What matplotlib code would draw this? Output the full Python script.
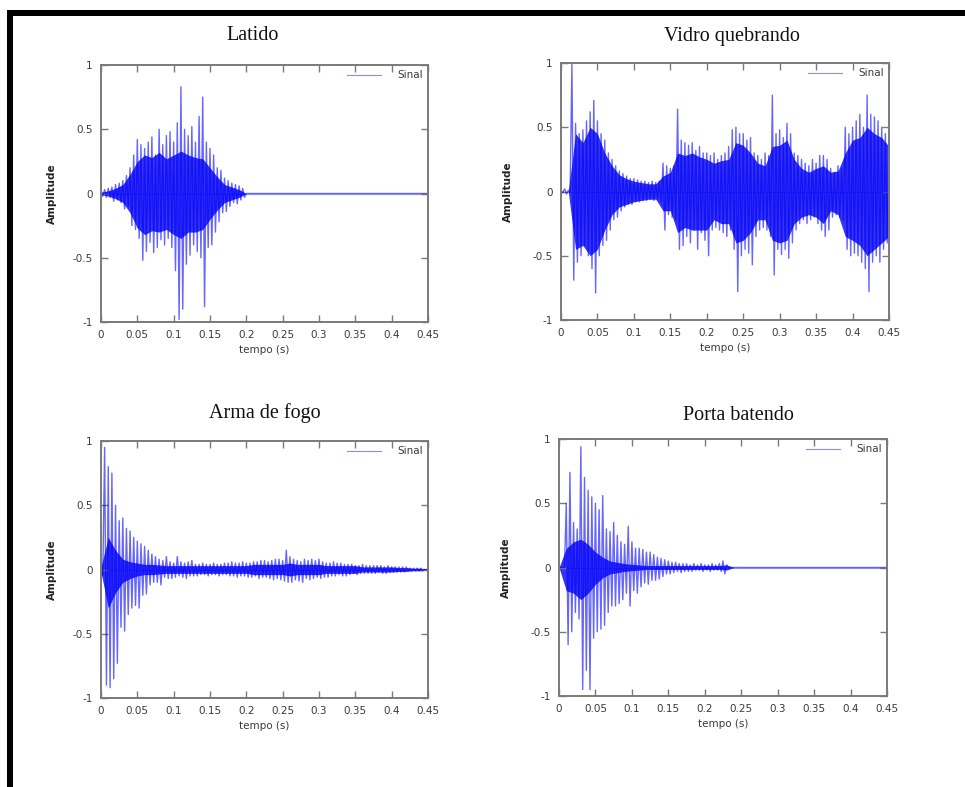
import numpy as np
import matplotlib
matplotlib.use("Agg")
import matplotlib.pyplot as plt
from matplotlib.patches import Rectangle

# ---------------- data ----------------
# peak samples (alternating swings), dt = 2.5 ms
dt = 0.0025

latido = [
    0.02, -0.02, 0.03, -0.03, 0.04, -0.03,
    0.05, -0.06, 0.07, -0.05, 0.08, -0.07,
    0.10, -0.12, 0.14, -0.10,
    0.20, -0.25, 0.30, -0.28,
    0.42, -0.35, 0.38, -0.52,
    0.35, -0.45, 0.40, -0.38,
    0.44, -0.46, 0.30, -0.42,
    0.50, -0.36, 0.38, -0.40,
    0.45, -0.35, 0.48, -0.42,
    0.40, -0.60, 0.55, -0.98,
    0.83, -0.90, 0.50, -0.55,
    0.45, -0.48, 0.52, -0.40,
    0.40, -0.45, 0.60, -0.50,
    0.75, -0.88, 0.40, -0.42,
    0.35, -0.40, 0.30, -0.30,
    0.20, -0.22, 0.18, -0.15,
    0.12, -0.14, 0.10, -0.10,
    0.08, -0.07, 0.07, -0.08,
    0.06, -0.05, 0.04, -0.03,
] + [0.0] * 101

vidro = [
    0.01, -0.01, 0.02, -0.02, 0.01, -0.01,
    0.99, -0.69,
    0.53, -0.55, 0.45, -0.50,
    0.48, -0.42, 0.55, -0.50,
    0.62, -0.60, 0.71, -0.79,
    0.55, -0.50, 0.45, -0.42,
    0.40, -0.38, 0.30, -0.30,
    0.25, -0.22, 0.20, -0.20,
    0.16, -0.15, 0.14, -0.12,
    0.12, -0.10, 0.10, -0.10,
    0.10, -0.08, 0.09, -0.08,
    0.08, -0.07, 0.08, -0.07,
    0.07, -0.06, 0.08, -0.07,
    0.07, -0.06, 0.08, -0.08,
    0.22, -0.30, 0.20, -0.18,
    0.18, -0.20, 0.20, -0.22,
    0.64, -0.45, 0.40, -0.42,
    0.38, -0.35, 0.36, -0.40,
    0.38, -0.30, 0.32, -0.45,
    0.35, -0.32, 0.30, -0.38,
    0.30, -0.50, 0.28, -0.30,
    0.30, -0.28, 0.25, -0.30,
    0.28, -0.32, 0.30, -0.35,
    0.35, -0.30, 0.48, -0.45,
    0.50, -0.78, 0.45, -0.50,
    0.45, -0.45, 0.40, -0.48,
    0.42, -0.57, 0.30, -0.35,
    0.28, -0.30, 0.25, -0.28,
    0.30, -0.30, 0.28, -0.35,
    0.75, -0.65, 0.45, -0.45,
    0.48, -0.49, 0.42, -0.45,
    0.53, -0.52, 0.45, -0.40,
    0.30, -0.30, 0.28, -0.25,
    0.25, -0.22, 0.22, -0.25,
    0.20, -0.22, 0.25, -0.20,
    0.22, -0.25, 0.28, -0.30,
    0.28, -0.35, 0.25, -0.30,
    0.18, -0.20, 0.15, -0.18,
    0.20, -0.20, 0.18, -0.22,
    0.50, -0.45, 0.45, -0.50,
    0.50, -0.48, 0.55, -0.50,
    0.60, -0.55, 0.50, -0.60,
    0.75, -0.78, 0.60, -0.55,
    0.58, -0.50, 0.55, -0.55,
    0.50, -0.45, 0.45, -0.40, 0.40,
]

arma = [
    0.03, -0.05,
    0.95, -0.90,
    0.80, -0.92,
    0.75, -0.85,
    0.50, -0.73,
    0.38, -0.45, 0.40, -0.48,
    0.32, -0.35, 0.30, -0.30,
    0.25, -0.28, 0.22, -0.30,
    0.20, -0.20, 0.18, -0.19,
    0.15, -0.12, 0.12, -0.10,
    0.10, -0.10, 0.08, -0.12,
    0.07, -0.06, 0.10, -0.07,
    0.06, -0.07, 0.05, -0.06,
    0.10, -0.05, 0.06, -0.06,
    0.05, -0.07, 0.06, -0.05,
    0.07, -0.05, 0.04, -0.05,
    0.04, -0.04, 0.05, -0.04,
    0.04, -0.05, 0.04, -0.04,
    0.05, -0.04, 0.04, -0.05,
    0.04, -0.04, 0.05, -0.04,
    0.05, -0.05, 0.06, -0.05,
    0.05, -0.06, 0.05, -0.05,
    0.06, -0.05, 0.05, -0.06,
    0.05, -0.06, 0.06, -0.05,
    0.06, -0.07, 0.07, -0.06,
    0.07, -0.06, 0.06, -0.07,
    0.07, -0.08, 0.08, -0.07,
    0.08, -0.08, 0.07, -0.09,
    0.15, -0.10, 0.10, -0.10,
    0.08, -0.08, 0.07, -0.09,
    0.06, -0.10, 0.08, -0.07,
    0.07, -0.08, 0.08, -0.07,
    0.07, -0.06, 0.08, -0.07,
    0.06, -0.06, 0.05, -0.06,
    0.05, -0.05, 0.06, -0.05,
    0.05, -0.04, 0.05, -0.05,
    0.04, -0.05, 0.04, -0.04,
    0.04, -0.03, 0.03, -0.04,
    0.03, -0.03, 0.04, -0.03,
    0.03, -0.03, 0.03, -0.03,
    0.03, -0.03, 0.03, -0.02,
    0.03, -0.03, 0.02, -0.03,
    0.03, -0.02, 0.02, -0.02,
    0.02, -0.02, 0.02, -0.02,
    0.02, -0.02, 0.02, -0.01,
    0.01, -0.01, 0.01, -0.01,
    0.01, -0.01, 0.01, -0.01, 0.0, 0.0, 0.0,
]

porta = [
    0.0, 0.0, 0.0, 0.0,
    0.50, -0.60,
    0.74, -0.50,
    0.35, -0.35, 0.30, -0.40,
    0.94, -0.95,
    0.70, -0.80,
    0.60, -0.95,
    0.55, -0.55, 0.50, -0.50,
    0.45, -0.48, 0.56, -0.45,
    0.30, -0.35, 0.28, -0.30,
    0.35, -0.30, 0.25, -0.28,
    0.20, -0.25, 0.18, -0.20,
    0.32, -0.30, 0.20, -0.18,
    0.15, -0.20, 0.15, -0.15,
    0.14, -0.12, 0.12, -0.13,
    0.12, -0.10, 0.10, -0.10,
    0.08, -0.09, 0.07, -0.07,
    0.06, -0.05, 0.05, -0.05,
    0.04, -0.04, 0.04, -0.03,
    0.03, -0.04, 0.03, -0.03,
    0.03, -0.03, 0.02, -0.03,
    0.03, -0.02, 0.02, -0.02,
    0.03, -0.03, 0.02, -0.02,
    0.02, -0.03, 0.03, -0.02,
    0.02, -0.02, 0.03, -0.03,
    0.05, -0.05, 0.02, 0.0,
] + [0.0] * 87

# dense (solid) core of each waveform, sampled every 10 ms (t = 0 .. 0.45)
core_dt = 0.01
latido_core_hi = [0.01, 0.02, 0.04, 0.07, 0.15, 0.25, 0.30, 0.28, 0.32, 0.27,
                  0.30, 0.33, 0.30, 0.28, 0.27, 0.20, 0.13, 0.07, 0.05, 0.03,
                  0.0] + [0.0] * 25
latido_core_lo = [-0.01, -0.02, -0.04, -0.07, -0.15, -0.27, -0.32, -0.29, -0.30, -0.28,
                  -0.32, -0.35, -0.30, -0.30, -0.28, -0.20, -0.13, -0.07, -0.05, -0.03,
                  0.0] + [0.0] * 25
vidro_core_hi = [0.0, 0.0, 0.45, 0.38, 0.50, 0.45, 0.30, 0.20, 0.13, 0.10,
                 0.08, 0.07, 0.06, 0.06, 0.12, 0.15, 0.30, 0.28, 0.30, 0.27,
                 0.25, 0.22, 0.24, 0.25, 0.38, 0.36, 0.30, 0.22, 0.20, 0.35,
                 0.36, 0.40, 0.25, 0.18, 0.15, 0.18, 0.20, 0.15, 0.16, 0.30,
                 0.40, 0.42, 0.50, 0.45, 0.42, 0.35]
vidro_core_lo = [0.0, 0.0, -0.45, -0.42, -0.50, -0.45, -0.30, -0.18, -0.12, -0.10,
                 -0.08, -0.07, -0.06, -0.06, -0.15, -0.15, -0.32, -0.28, -0.30, -0.30,
                 -0.30, -0.22, -0.25, -0.25, -0.40, -0.38, -0.32, -0.22, -0.22, -0.38,
                 -0.40, -0.38, -0.25, -0.20, -0.18, -0.20, -0.25, -0.15, -0.18, -0.35,
                 -0.38, -0.42, -0.50, -0.45, -0.40, -0.35]
arma_core_hi = [0.02, 0.25, 0.15, 0.08, 0.06, 0.05, 0.04, 0.04, 0.035, 0.03,
                0.03, 0.03, 0.03, 0.03, 0.03, 0.03, 0.03, 0.03, 0.03, 0.03,
                0.03, 0.04, 0.04, 0.04, 0.04, 0.04, 0.05, 0.04, 0.04, 0.04,
                0.04, 0.03, 0.03, 0.03, 0.03, 0.03, 0.02, 0.02, 0.02, 0.02,
                0.02, 0.015, 0.015, 0.01, 0.01, 0.005]
arma_core_lo = [-0.02, -0.30, -0.18, -0.10, -0.07, -0.05, -0.04, -0.04, -0.035, -0.03,
                -0.03, -0.03, -0.03, -0.03, -0.03, -0.03, -0.03, -0.03, -0.03, -0.03,
                -0.03, -0.04, -0.04, -0.04, -0.04, -0.04, -0.05, -0.04, -0.04, -0.04,
                -0.04, -0.03, -0.03, -0.03, -0.03, -0.03, -0.02, -0.02, -0.02, -0.02,
                -0.02, -0.015, -0.015, -0.01, -0.01, -0.005]
porta_core_hi = [0.0, 0.15, 0.20, 0.22, 0.18, 0.12, 0.08, 0.05, 0.04, 0.03,
                 0.025, 0.02, 0.015, 0.015, 0.015, 0.015, 0.015, 0.015, 0.015, 0.015,
                 0.015, 0.015, 0.015, 0.02, 0.0] + [0.0] * 21
porta_core_lo = [0.0, -0.18, -0.20, -0.25, -0.20, -0.13, -0.08, -0.05, -0.04, -0.03,
                 -0.025, -0.02, -0.015, -0.015, -0.015, -0.015, -0.015, -0.015, -0.015, -0.015,
                 -0.015, -0.015, -0.015, -0.02, 0.0] + [0.0] * 21

titles = ["Latido", "Vidro quebrando", "Arma de fogo", "Porta batendo"]
signals = [latido, vidro, arma, porta]
cores_hi = [latido_core_hi, vidro_core_hi, arma_core_hi, porta_core_hi]
cores_lo = [latido_core_lo, vidro_core_lo, arma_core_lo, porta_core_lo]
legend_label = "Sinal"
xlabel = "tempo (s)"
ylabel = "Amplitude"
xticks = [0, 0.05, 0.1, 0.15, 0.2, 0.25, 0.3, 0.35, 0.4, 0.45]
xticklabels = ["0", "0.05", "0.1", "0.15", "0.2", "0.25", "0.3", "0.35", "0.4", "0.45"]
yticks = [-1, -0.5, 0, 0.5, 1]
yticklabels = ["-1", "-0.5", "0", "0.5", "1"]

# ---------------- layout ----------------
W, H = 965, 787
fig = plt.figure(figsize=(W / 100, H / 100), dpi=100)
fig.patch.set_facecolor("white")

boxes = [(101, 65, 428, 322), (561, 63, 889, 320),
         (101, 441, 428, 698), (559, 439, 887, 696)]
title_pos = [(253, 36), (732, 36), (265, 413), (738, 415)]
ylab_x = [-0.135, -0.146, -0.135, -0.146]

frame_col = "#7a7a7a"
text_col = "#3a3a3a"
blue = "#0000ff"

for k in range(4):
    x0, yt, x1, yb = boxes[k]
    ax = fig.add_axes([x0 / W, (H - yb) / H, (x1 - x0) / W, (yb - yt) / H])
    sig = np.asarray(signals[k], dtype=float)
    t = np.arange(len(sig)) * dt
    hi = np.asarray(cores_hi[k], dtype=float)
    lo = np.asarray(cores_lo[k], dtype=float)
    tc = np.arange(len(hi)) * core_dt
    ax.plot([0, 0.45], [0, 0], color="#9a9aff", lw=0.8, zorder=0.5)
    ax.fill_between(tc, lo, hi, color="#1010f0", alpha=0.85, lw=0, zorder=1)
    ax.plot(t, sig, color=blue, lw=1.0, alpha=0.6, label=legend_label, zorder=2)
    ax.set_xlim(0, 0.45)
    ax.set_ylim(-1, 1)
    ax.set_xticks(xticks)
    ax.set_xticklabels(xticklabels)
    ax.set_yticks(yticks)
    ax.set_yticklabels(yticklabels)
    ax.tick_params(direction="in", length=5, width=1.0, color=frame_col,
                   labelsize=7.5, labelcolor=text_col, top=True, right=True)
    ax.tick_params(axis="x", pad=6)
    ax.tick_params(axis="y", pad=6)
    for s in ax.spines.values():
        s.set_color(frame_col)
        s.set_linewidth(1.4)
    ax.set_xlabel(xlabel, fontsize=7.5, color=text_col)
    ax.xaxis.set_label_coords(0.5, -0.09)
    ax.set_ylabel(ylabel, fontsize=7.5, color="#222222", fontweight="bold")
    ax.yaxis.set_label_coords(ylab_x[k], 0.5)
    leg = ax.legend(loc="upper right", frameon=False, fontsize=7.5,
                    handlelength=3.2, handletextpad=1.6,
                    borderpad=0.3, borderaxespad=0.2)
    for txt in leg.get_texts():
        txt.set_color(text_col)
    for ln in leg.get_lines():
        ln.set_color("#8a8aff")
        ln.set_alpha(1.0)
        ln.set_linewidth(0.8)
    tx, ty = title_pos[k]
    fig.text(tx / W, (H - ty) / H, titles[k], ha="center", va="center",
             fontsize=14.5, family="Liberation Serif", color="#111111")

# page frame (top and left black border)
fig.add_artist(Rectangle((7 / W, (H - 16) / H), (W - 7) / W, 6 / H,
                         transform=fig.transFigure, color="black", lw=0))
fig.add_artist(Rectangle((7 / W, 0), 6 / W, (H - 10) / H,
                         transform=fig.transFigure, color="black", lw=0))

fig.savefig("out.png", dpi=100, facecolor="white")
